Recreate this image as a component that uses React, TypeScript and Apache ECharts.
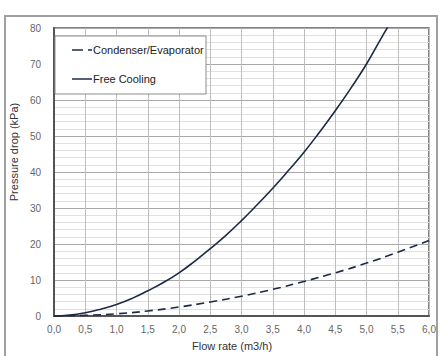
import React, { useEffect, useRef } from "react";
import * as echarts from "echarts";

const flowCond = [0, 0.5, 1.0, 1.5, 2.0, 2.5, 3.0, 3.5, 4.0, 4.5, 5.0, 5.5, 6.0];
const condenserEvaporator = [0, 0.2, 0.6, 1.4, 2.5, 3.9, 5.5, 7.4, 9.6, 12.0, 14.7, 17.7, 21.0];

const flowFree = [0, 0.25, 0.5, 0.75, 1.0, 1.25, 1.5, 1.75, 2.0, 2.25, 2.5, 2.75, 3.0, 3.25, 3.5, 3.75, 4.0, 4.25, 4.5, 4.75, 5.0, 5.25, 5.5];
const freeCooling = [0, 0.25, 0.9, 1.9, 3.2, 4.9, 7.0, 9.3, 12.0, 15.2, 18.7, 22.4, 26.5, 30.9, 35.5, 40.4, 45.5, 51.1, 57.0, 63.3, 70.0, 77.6, 85.0];

const seriesNames = ["Condenser/Evaporator", "Free Cooling"];
const xTitle = "Flow rate (m3/h)";
const yTitle = "Pressure drop (kPa)";

const LINE = "#1c2a48";
const FONT = "Liberation Sans, Arial, sans-serif";

export default function App() {
  const ref = useRef<HTMLDivElement>(null);
  useEffect(() => {
    if (!ref.current) return;
    const chart = echarts.init(ref.current, undefined, { renderer: "svg" });
    chart.setOption({
      animation: false,
      backgroundColor: "#ffffff",
      textStyle: { fontFamily: FONT },
      grid: { left: 48, top: 28, right: 17, bottom: 40, show: true, borderColor: "#5a5a5a", borderWidth: 1.5 },
      xAxis: {
        type: "value",
        min: 0,
        max: 6,
        interval: 0.5,
        name: xTitle,
        nameLocation: "middle",
        nameGap: 24,
        nameTextStyle: { color: "#333", fontSize: 11, fontFamily: FONT, padding: [0, 19, 0, 0] },
        axisLine: { show: true, lineStyle: { color: "#555", width: 2 } },
        axisTick: { show: false },
        axisLabel: {
          color: "#666",
          fontSize: 10,
          fontFamily: FONT,
          margin: 8,
          formatter: (v: number) => v.toFixed(1).replace(".", ","),
        },
        splitLine: { show: true, lineStyle: { color: "#bdbdbd", width: 1 } },
      },
      yAxis: {
        type: "value",
        min: 0,
        max: 80,
        interval: 10,
        name: yTitle,
        nameLocation: "middle",
        nameGap: 27,
        nameTextStyle: { color: "#333", fontSize: 11, fontFamily: FONT, padding: [0, 0, 0, 40] },
        axisLine: { show: true, lineStyle: { color: "#555", width: 2 } },
        axisTick: { show: false },
        axisLabel: { color: "#666", fontSize: 10, fontFamily: FONT, margin: 13 },
        splitLine: { show: true, lineStyle: { color: "#a8a8a8", width: 1 } },
        minorTick: { show: false, splitNumber: 5 },
        minorSplitLine: { show: true, lineStyle: { color: "#e0e0e0", width: 1 } },
      },
      graphic: [
        {
          type: "rect",
          shape: { x: 55, y: 36, width: 151, height: 58 },
          style: { fill: "#ffffff", stroke: "#8c8c8c", lineWidth: 1 },
          z: 10,
        },
        {
          type: "line",
          shape: { x1: 72, y1: 50, x2: 92, y2: 50 },
          style: { stroke: LINE, lineWidth: 1.5, lineDash: [11, 5] },
          z: 11,
        },
        {
          type: "text",
          x: 93,
          y: 50,
          style: { text: seriesNames[0], fill: "#222", font: `11px ${FONT}`, textVerticalAlign: "middle" },
          z: 11,
        },
        {
          type: "line",
          shape: { x1: 72, y1: 79, x2: 92, y2: 79 },
          style: { stroke: LINE, lineWidth: 1.5 },
          z: 11,
        },
        {
          type: "text",
          x: 93,
          y: 79,
          style: { text: seriesNames[1], fill: "#222", font: `11px ${FONT}`, textVerticalAlign: "middle" },
          z: 11,
        },
      ],
      series: [
        {
          name: seriesNames[0],
          type: "line",
          smooth: true,
          showSymbol: false,
          symbol: "none",
          clip: true,
          data: flowCond.map((x, i) => [x, condenserEvaporator[i]]),
          lineStyle: { color: LINE, width: 1.6, type: [8, 5] },
        },
        {
          name: seriesNames[1],
          type: "line",
          smooth: true,
          showSymbol: false,
          symbol: "none",
          clip: true,
          data: flowFree.map((x, i) => [x, freeCooling[i]]),
          lineStyle: { color: LINE, width: 1.6 },
        },
      ],
    });
    return () => chart.dispose();
  }, []);
  return (
    <div style={{ position: "absolute", left: 0, top: 0, width: 446, height: 356, overflow: "hidden" }}>
      <div ref={ref} style={{ width: 446, height: 356, position: "absolute", left: 0, top: 0 }} />
      <div
        style={{
          position: "absolute",
          left: 4,
          top: 15,
          width: 434,
          height: 360,
          border: "2px solid #a0a0a0",
          pointerEvents: "none",
          boxSizing: "border-box",
        }}
      />
    </div>
  );
}
